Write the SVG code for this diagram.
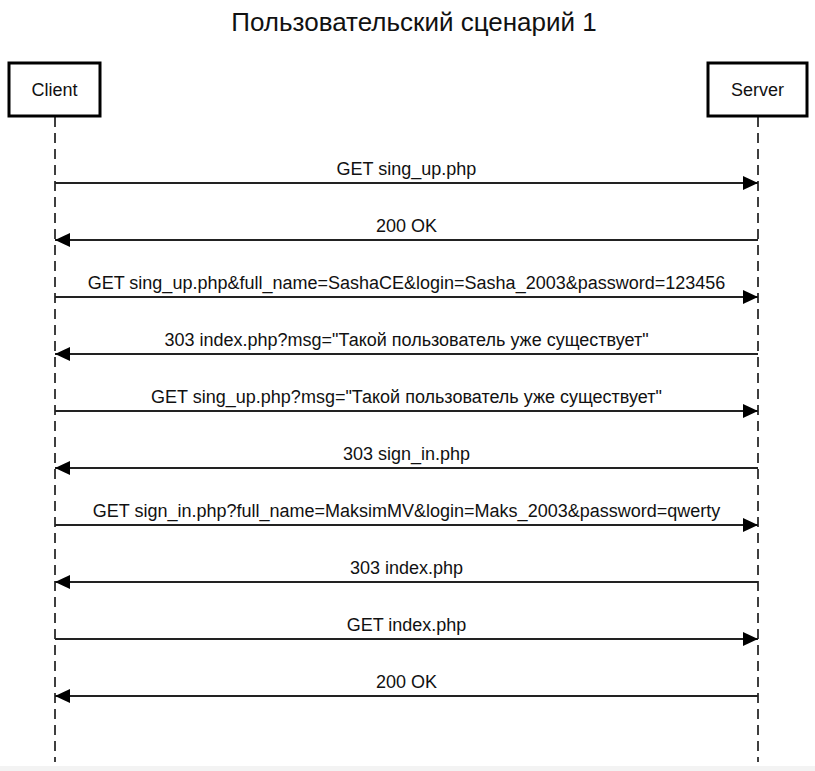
<svg xmlns="http://www.w3.org/2000/svg" width="815" height="771" viewBox="0 0 815 771">
<style>
.box{fill:#fff;stroke:#000;stroke-width:3}
.life{stroke:#000;stroke-width:1.5;stroke-dasharray:10,6;fill:none}
.msg{stroke:#222;stroke-width:1.8;fill:none;marker-end:url(#ah)}
.lbl{font-family:"Liberation Sans",Arial,sans-serif;font-size:18px;fill:#111;text-anchor:middle}
.ttl{font-family:"Liberation Sans",Arial,sans-serif;font-size:26px;fill:#111;text-anchor:middle}
</style>
<defs>
<marker id="ah" markerWidth="16" markerHeight="14" refX="15" refY="7" orient="auto" markerUnits="userSpaceOnUse">
<path d="M0,0 L15,7 L0,14 Z" fill="#000"/>
</marker>
</defs>
<rect x="0" y="0" width="815" height="771" fill="#fff"/>
<rect x="0" y="766" width="815" height="5" fill="#f3f3f3"/>
<text class="ttl" x="414" y="31">Пользовательский сценарий 1</text>
<g id="client">
<line class="life" x1="55" y1="117" x2="55" y2="762"/>
<rect class="box" x="9" y="63" width="91" height="53"/>
<text class="lbl" x="54.5" y="96">Client</text>
</g>
<g id="server">
<line class="life" x1="758" y1="117" x2="758" y2="762"/>
<rect class="box" x="708" y="63" width="99" height="53"/>
<text class="lbl" x="757.5" y="96">Server</text>
</g>
<g id="connectors">
<line class="msg" x1="55" y1="183" x2="758" y2="183"/>
<text class="lbl" x="406.5" y="175">GET sing_up.php</text>
<line class="msg" x1="758" y1="240" x2="55" y2="240"/>
<text class="lbl" x="406.5" y="232">200 OK</text>
<line class="msg" x1="55" y1="297" x2="758" y2="297"/>
<text class="lbl" x="406.5" y="289">GET sing_up.php&amp;full_name=SashaCE&amp;login=Sasha_2003&amp;password=123456</text>
<line class="msg" x1="758" y1="354" x2="55" y2="354"/>
<text class="lbl" x="406.5" y="346">303 index.php?msg="Такой пользователь уже существует"</text>
<line class="msg" x1="55" y1="411" x2="758" y2="411"/>
<text class="lbl" x="406.5" y="403">GET sing_up.php?msg="Такой пользователь уже существует"</text>
<line class="msg" x1="758" y1="468" x2="55" y2="468"/>
<text class="lbl" x="406.5" y="460">303 sign_in.php</text>
<line class="msg" x1="55" y1="525" x2="758" y2="525"/>
<text class="lbl" x="406.5" y="517">GET sign_in.php?full_name=MaksimMV&amp;login=Maks_2003&amp;password=qwerty</text>
<line class="msg" x1="758" y1="582" x2="55" y2="582"/>
<text class="lbl" x="406.5" y="574">303 index.php</text>
<line class="msg" x1="55" y1="639" x2="758" y2="639"/>
<text class="lbl" x="406.5" y="631">GET index.php</text>
<line class="msg" x1="758" y1="696" x2="55" y2="696"/>
<text class="lbl" x="406.5" y="688">200 OK</text>
</g>
</svg>
